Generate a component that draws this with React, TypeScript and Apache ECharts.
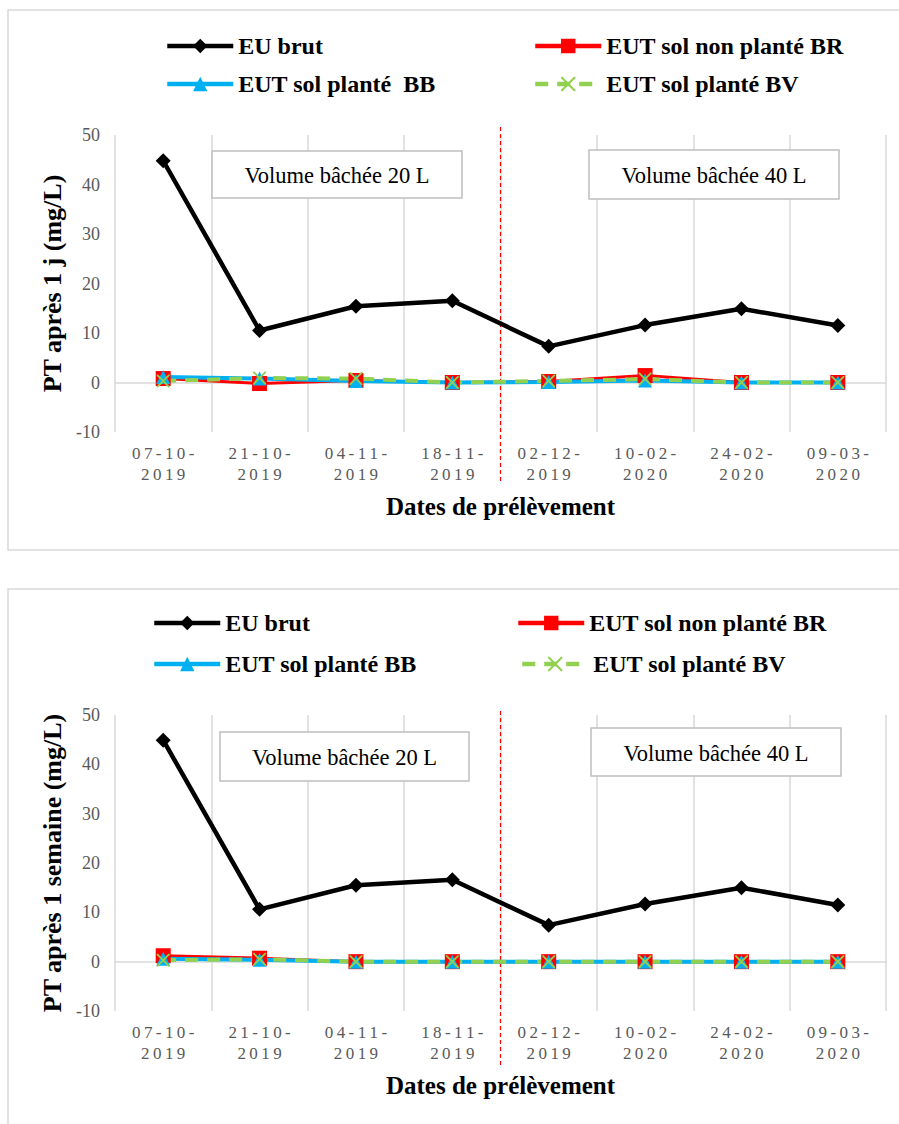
import React, { useEffect, useRef } from "react";
import * as echarts from "echarts";

// ---- data ----
const categories = [
  "07-10-2019",
  "21-10-2019",
  "04-11-2019",
  "18-11-2019",
  "02-12-2019",
  "10-02-2020",
  "24-02-2020",
  "09-03-2020",
];

// Chart 1 : PT après 1 j
const euBrut1 = [44.8, 10.5, 15.4, 16.5, 7.3, 11.6, 14.9, 11.5];
const br1 = [0.8, -0.2, 0.4, 0.0, 0.2, 1.4, 0.0, 0.0];
const bb1 = [1.1, 0.8, 0.3, 0.0, 0.1, 0.4, 0.0, 0.0];
const bv1 = [0.3, 0.9, 0.8, 0.0, 0.3, 0.7, 0.0, 0.0];

// Chart 2 : PT après 1 semaine
const euBrut2 = [44.9, 10.6, 15.5, 16.6, 7.4, 11.7, 15.0, 11.5];
const br2 = [1.2, 0.7, 0.0, 0.0, 0.0, 0.0, 0.0, 0.0];
const bb2 = [0.6, 0.4, 0.0, 0.0, 0.0, 0.0, 0.0, 0.0];
const bv2 = [0.3, 0.5, 0.0, 0.0, 0.0, 0.0, 0.0, 0.0];

const yMin = -10;
const yMax = 50;
const yStep = 10;

const names1 = ["EU brut", "EUT sol non planté BR", "EUT sol planté  BB", "EUT sol planté BV"];
const names2 = ["EU brut", "EUT sol non planté BR", "EUT sol planté BB", "EUT sol planté BV"];
const yTitles = ["PT après 1 j (mg/L)", "PT après 1 semaine (mg/L)"];
const xTitle = "Dates de prélèvement";
const boxTexts = ["Volume bâchée 20 L", "Volume bâchée 40 L"];

const SERIF = "Liberation Serif";
const X_PATH =
  "path://M0,0 L2,0 L10,8 L18,0 L20,0 L20,2 L12,10 L20,18 L20,20 L18,20 L10,12 L2,20 L0,20 L0,18 L8,10 L0,2 Z";

const spaced = (s: string) => s.split("").join("\u2009");

function makeSeries(g: number, names: string[], eu: number[], br: number[], bb: number[], bv: number[]) {
  const base = { type: "line", xAxisIndex: g, yAxisIndex: g, z: 3 };
  return [
    {
      ...base,
      name: names[0],
      data: eu,
      symbol: "diamond",
      symbolSize: 15,
      itemStyle: { color: "#000000" },
      lineStyle: { color: "#000000", width: 4.5 },
    },
    {
      ...base,
      name: names[1],
      data: br,
      symbol: "rect",
      symbolSize: 15,
      itemStyle: { color: "#FF0000" },
      lineStyle: { color: "#FF0000", width: 3 },
    },
    {
      ...base,
      name: names[2],
      data: bb,
      symbol: "triangle",
      symbolSize: 14,
      itemStyle: { color: "#00B0F0" },
      lineStyle: { color: "#00B0F0", width: 4 },
    },
    {
      ...base,
      name: names[3],
      data: bv,
      symbol: X_PATH,
      symbolSize: 13,
      itemStyle: { color: "#92D050" },
      lineStyle: { color: "#92D050", width: 4, type: [13, 9] },
    },
  ];
}

function legendItem(name: string, left: number, top: number) {
  return {
    left,
    top,
    padding: 0,
    itemWidth: 66,
    itemHeight: 18,
    itemGap: 0,
    selectedMode: false,
    data: [name],
    lineStyle: { width: 4.5 },
    textStyle: { fontFamily: SERIF, fontWeight: "bold", fontSize: 24, color: "#000" },
  };
}

export default function App() {
  const ref = useRef<HTMLDivElement>(null);

  useEffect(() => {
    if (!ref.current) return;
    const chart = echarts.init(ref.current, null, { renderer: "svg" });

    const grids = [
      { left: 115, top: 135, width: 771, height: 297 },
      { left: 115, top: 715, width: 771, height: 296 },
    ];

    const labelAxis = (g: number) => ({
      type: "category",
      gridIndex: g,
      data: categories,
      boundaryGap: true,
      position: "bottom",
      axisLine: { show: false, onZero: false },
      axisTick: { show: false },
      splitLine: { show: true, lineStyle: { color: "#d9d9d9", width: 1.5 } },
      axisLabel: {
        interval: 0,
        margin: 11,
        fontFamily: SERIF,
        fontSize: 17,
        lineHeight: 21,
        color: "#595959",
        formatter: (v: string) => spaced(v.slice(0, 6)) + "\n" + spaced(v.slice(6)),
      },
      name: xTitle,
      nameLocation: "middle",
      nameGap: 62,
      nameTextStyle: { fontFamily: SERIF, fontWeight: "bold", fontSize: 25, color: "#000" },
    });

    const zeroAxis = (g: number) => ({
      type: "category",
      gridIndex: g,
      data: categories,
      axisLine: { show: true, onZero: true, onZeroAxisIndex: g, lineStyle: { color: "#d9d9d9", width: 1.5 } },
      axisTick: { show: false },
      axisLabel: { show: false },
      splitLine: { show: false },
    });

    const yAxis = (g: number) => ({
      type: "value",
      gridIndex: g,
      min: yMin,
      max: yMax,
      interval: yStep,
      axisLine: { show: false },
      axisTick: { show: false },
      splitLine: { show: false },
      axisLabel: { margin: 15, fontFamily: SERIF, fontSize: 18, color: "#595959" },
      name: yTitles[g],
      nameLocation: "middle",
      nameGap: 44,
      nameTextStyle: { fontFamily: SERIF, fontWeight: "bold", fontSize: 26, color: "#000" },
    });

    chart.setOption({
      animation: false,
      backgroundColor: "#ffffff",
      grid: grids,
      xAxis: [labelAxis(0), labelAxis(1), zeroAxis(0), zeroAxis(1)],
      yAxis: [yAxis(0), yAxis(1)],
      legend: [
        legendItem(names1[0], 165, 34),
        legendItem(names1[1], 533, 34),
        legendItem(names1[2], 165, 72),
        legendItem(names1[3], 533, 72),
        legendItem(names2[0], 152, 611),
        legendItem(names2[1], 516, 611),
        legendItem(names2[2], 152, 652),
        legendItem(names2[3], 520, 652),
      ],
      series: [
        ...makeSeries(0, names1, euBrut1, br1, bb1, bv1),
        ...makeSeries(1, names2, euBrut2, br2, bb2, bv2),
      ],
    });

    // separator between 18-11-2019 and 02-12-2019, derived from the axis
    const sepX = (g: number) => {
      const a = chart.convertToPixel({ xAxisIndex: g }, categories[3]) as number;
      const b = chart.convertToPixel({ xAxisIndex: g }, categories[4]) as number;
      return (a + b) / 2;
    };

    const box = (x: number, y: number, w: number, h: number, text: string) => [
      {
        type: "rect",
        z: 10,
        shape: { x, y, width: w, height: h },
        style: { fill: "#ffffff", stroke: "#bfbfbf", lineWidth: 1.5 },
      },
      {
        type: "text",
        z: 11,
        x: x + w / 2,
        y: y + h / 2 + 1,
        style: {
          text,
          fontFamily: SERIF,
          fontSize: 22.5,
          fill: "#000000",
          align: "center",
          verticalAlign: "middle",
        },
      },
    ];

    const s1 = sepX(0);
    const s2 = sepX(1);

    chart.setOption({
      graphic: [
        {
          type: "rect",
          z: -1,
          shape: { x: 8, y: 10, width: 900, height: 540 },
          style: { fill: "none", stroke: "#d9d9d9", lineWidth: 1.5 },
        },
        {
          type: "rect",
          z: -1,
          shape: { x: 8, y: 589, width: 900, height: 560 },
          style: { fill: "none", stroke: "#d9d9d9", lineWidth: 1.5 },
        },
        ...box(212, 151, 250, 47, boxTexts[0]),
        ...box(589, 150, 250, 49, boxTexts[1]),
        ...box(220, 732, 249, 49, boxTexts[0]),
        ...box(591, 728, 250, 48, boxTexts[1]),
        {
          type: "line",
          z: 1,
          shape: { x1: s1, y1: 127, x2: s1, y2: 482 },
          style: { stroke: "#FF0000", lineWidth: 1.2, lineDash: [4, 3] },
        },
        {
          type: "line",
          z: 1,
          shape: { x1: s2, y1: 711, x2: s2, y2: 1065 },
          style: { stroke: "#FF0000", lineWidth: 1.2, lineDash: [4, 3] },
        },
      ],
    });

    return () => chart.dispose();
  }, []);

  return (
    <div
      ref={ref}
      style={{ position: "absolute", left: 0, top: 0, width: 899, height: 1124, background: "#fff" }}
    />
  );
}
